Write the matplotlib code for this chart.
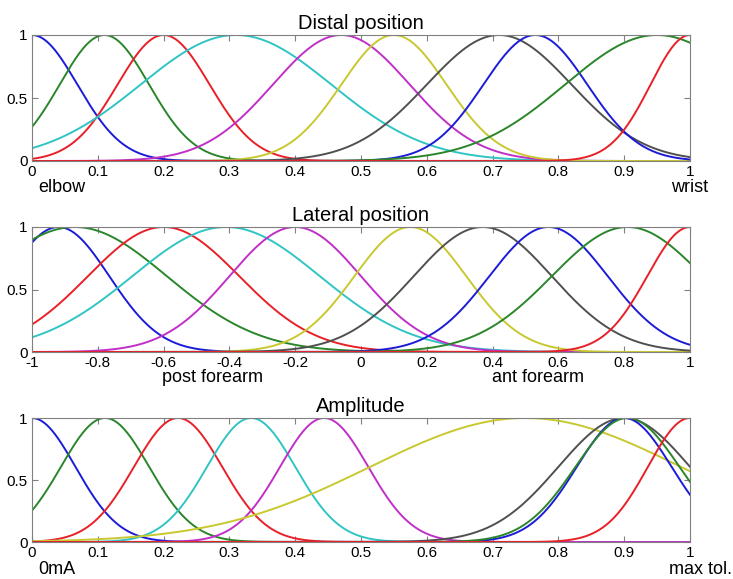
import numpy as np
import matplotlib
matplotlib.use('Agg')
import matplotlib.pyplot as plt

plt.rcParams['font.family'] = ['Liberation Sans', 'DejaVu Sans']

# membership functions: centres and widths
distal_centers = [0.0, 0.11, 0.20, 0.31, 0.47, 0.55, 0.71, 0.765, 0.95, 1.0]
distal_sigmas = [0.069, 0.068, 0.070, 0.145, 0.104, 0.080, 0.110, 0.079, 0.140, 0.060]

lateral_centers = [-0.92, -0.87, -0.60, -0.41, -0.20, 0.15, 0.37, 0.57, 0.81, 1.0]
lateral_sigmas = [0.155, 0.280, 0.230, 0.285, 0.200, 0.170, 0.210, 0.180, 0.230, 0.130]

amp_centers = [0.0, 0.111, 0.222, 0.333, 0.444, 0.75, 0.90, 0.90, 0.905, 1.0]
amp_sigmas = [0.066, 0.067, 0.067, 0.067, 0.067, 0.236, 0.100, 0.072, 0.079, 0.064]

titles = ["Distal position", "Lateral position", "Amplitude"]
xranges = [(0, 1), (-1, 1), (0, 1)]
xticks = [[0, 0.1, 0.2, 0.3, 0.4, 0.5, 0.6, 0.7, 0.8, 0.9, 1],
          [-1, -0.8, -0.6, -0.4, -0.2, 0, 0.2, 0.4, 0.6, 0.8, 1],
          [0, 0.1, 0.2, 0.3, 0.4, 0.5, 0.6, 0.7, 0.8, 0.9, 1]]

# MATLAB-like colour order
colors = ['#1c1cd8', '#2a862a', '#e82028', '#30c4c4', '#c030c8',
          '#c8c830', '#505050', '#1c1cd8', '#2a862a', '#e82028']

fig = plt.figure(figsize=(7.33, 5.79), dpi=100)
W, H = 733, 579
boxes = [(35, 161), (227, 352), (418, 542)]
left, right = 32, 690

params = [(distal_centers, distal_sigmas),
          (lateral_centers, lateral_sigmas),
          (amp_centers, amp_sigmas)]

for i, (top, bot) in enumerate(boxes):
    ax = fig.add_axes([left / W, 1 - bot / H, (right - left) / W, (bot - top) / H])
    lo, hi = xranges[i]
    x = np.linspace(lo, hi, 600)
    cs, ss = params[i]
    for c, s, col in zip(cs, ss, colors):
        ax.plot(x, np.exp(-(x - c) ** 2 / (2 * s ** 2)), color=col, lw=1.4)
    ax.set_xlim(lo, hi)
    ax.set_ylim(0, 1)
    ax.set_xticks(xticks[i])
    ax.set_xticklabels(['%g' % v for v in xticks[i]])
    ax.set_yticks([0, 0.5, 1])
    ax.set_yticklabels(['0', '0.5', '1'])
    ax.tick_params(direction='in', top=True, right=True, length=4,
                   color='#808080', labelsize=11, pad=3)
    for sp in ax.spines.values():
        sp.set_color('#808080')
    ax.set_title(titles[i], fontsize=14.5, pad=4)

# end labels
fig.text(38 / W, 1 - 188 / H, "elbow", fontsize=13, va='center')
fig.text(708 / W, 1 - 188 / H, "wrist", fontsize=13, va='center', ha='right')
fig.text(213 / W, 1 - 378 / H, "post forearm", fontsize=13, va='center', ha='center')
fig.text(538 / W, 1 - 378 / H, "ant forearm", fontsize=13, va='center', ha='center')
fig.text(38 / W, 1 - 569 / H, "0mA", fontsize=13, va='center')
fig.text(732 / W, 1 - 569 / H, "max tol.", fontsize=13, va='center', ha='right')

fig.savefig("out.png", dpi=100)
